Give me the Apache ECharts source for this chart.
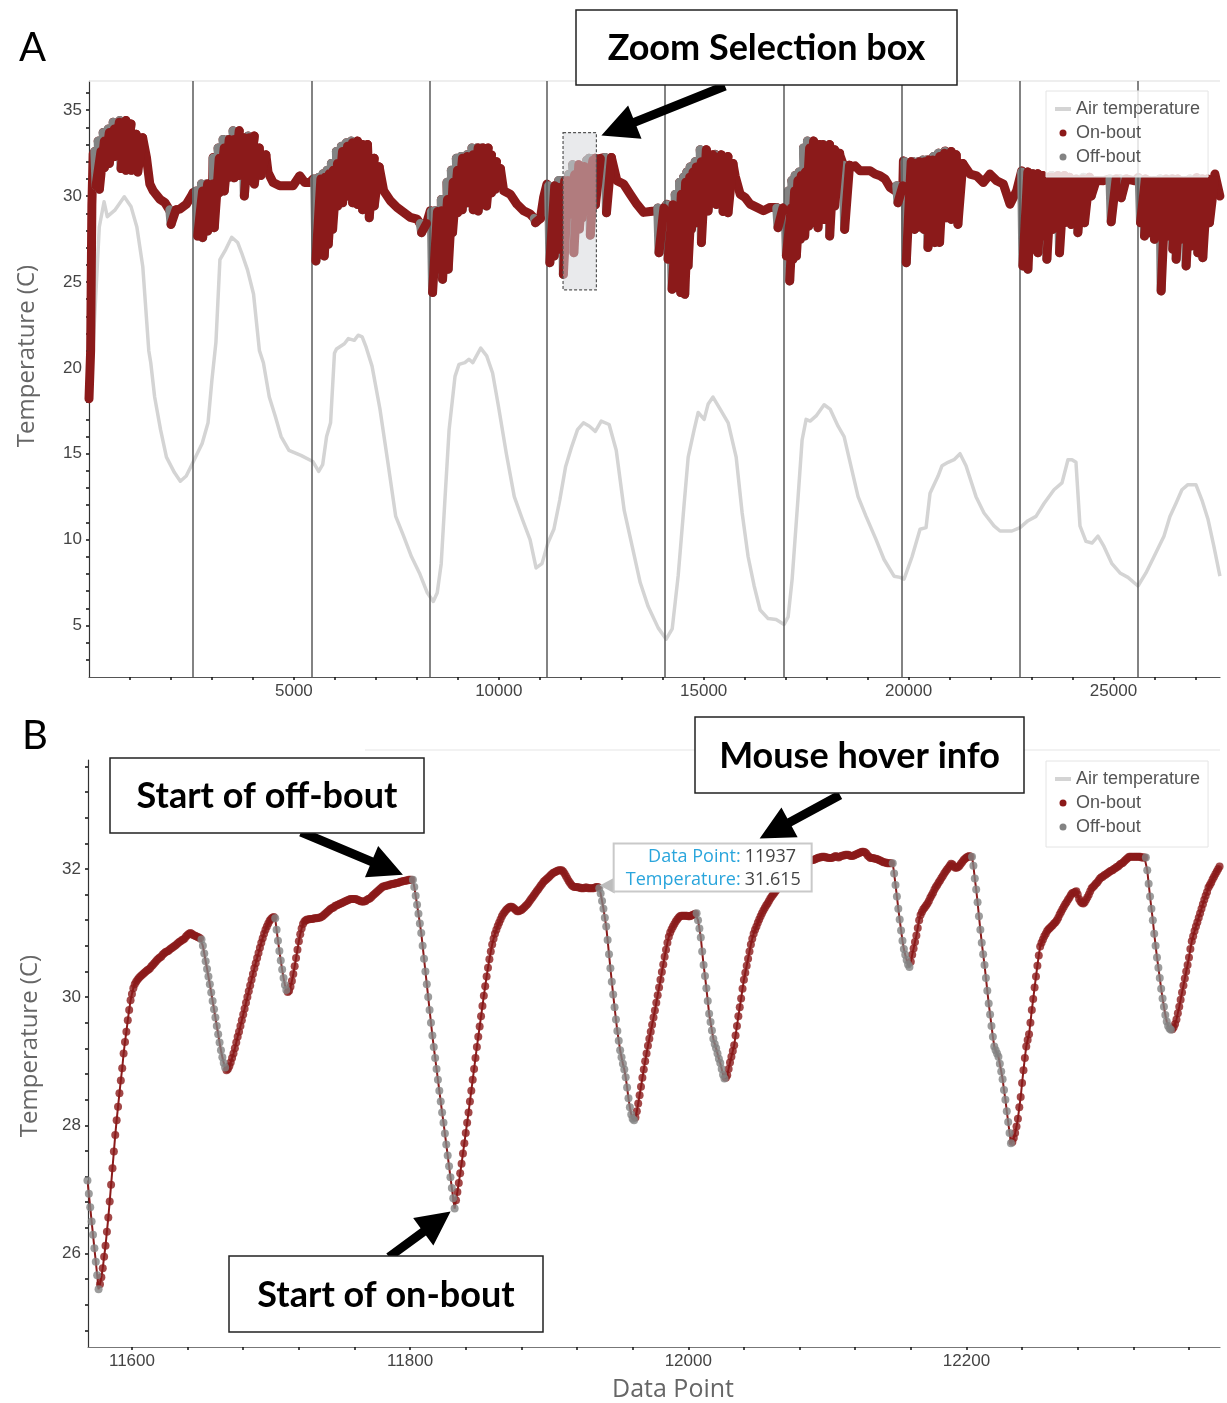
<!DOCTYPE html>
<html><head><meta charset="utf-8">
<script src="https://cdn.jsdelivr.net/npm/echarts@6/dist/echarts.min.js"></script>
<style>html,body{margin:0;padding:0;background:#fff}#c{width:1227px;height:1403px}</style>
</head><body><div id="c"></div>
<script>
// ===================== DATA =====================
// Panel A: day separators (data point index)
const dayBoundaries = [2541, 5430, 8305, 11178, 14061, 16947, 19834, 22703, 25581];

// Panel A: air temperature
const airX = [85,251,368,446,639,861,1024,1168,1312,1459,1507,1602,1746,1890,2085,2229,2373,2568,2761,2905,
3000,3098,3195,3339,3483,3627,3724,3868,4015,4159,4256,4400,4544,4688,4880,5171,5461,5605,5702,5798,
5895,5990,6039,6232,6329,6473,6568,6666,6763,6907,7100,7293,7485,7678,7871,8063,8256,8402,8498,8595,
8690,8788,8932,9029,9173,9271,9366,9559,9705,9849,9993,10185,10378,10573,10763,10910,11054,11198,11344,11488,
11632,11778,11922,12066,12212,12356,12500,12693,12866,13061,13256,13451,13646,13890,14085,14232,14378,14524,14622,14768,
14866,15012,15110,15227,15402,15598,15793,15939,16085,16232,16378,16573,16768,16963,17061,17159,17305,17402,17500,17598,
17744,17939,18085,18280,18427,18573,18768,18963,19207,19402,19646,19793,19890,20085,20280,20427,20524,20720,20817,20963,
21110,21256,21402,21646,21841,22085,22232,22524,22720,22915,23110,23305,23549,23744,23890,23988,24085,24183,24329,24476,
24622,24768,24963,25159,25354,25598,25793,25988,26232,26378,26524,26671,26817,27012,27159,27305,27451,27598];
const airY = [20.5,28.2,29.67,28.8,29.2,29.96,29.4,28.2,25.9,21.0,20.3,18.3,16.4,14.8,13.9,13.4,13.7,14.65,15.6,16.8,
19.3,21.5,26.3,26.9,27.6,27.3,26.7,25.7,24.3,21.0,20.3,18.3,17.2,16.0,15.2,14.9,14.55,13.97,14.36,16.0,
16.8,20.85,21.1,21.4,21.7,21.6,21.9,21.8,21.2,20.1,17.6,14.5,11.35,10.2,9.0,8.06,6.9,6.4,6.9,8.6,
12.5,16.4,19.5,20.2,20.3,20.5,20.3,21.15,20.7,19.7,17.75,15.0,12.5,11.2,10.0,8.35,8.6,9.8,10.6,12.3,
14.26,15.4,16.4,16.8,16.6,16.3,16.9,16.7,15.2,11.7,9.6,7.5,6.1,4.86,4.2,4.8,7.9,12.1,14.8,16.4,
17.4,17.0,17.9,18.3,17.6,16.8,14.8,11.55,9.0,7.3,5.9,5.4,5.35,5.06,5.5,7.7,12.5,15.8,17.0,16.9,
17.2,17.85,17.6,16.6,16.0,14.5,12.5,11.35,10.0,8.84,7.87,7.8,7.7,9.0,10.6,10.7,12.7,13.7,14.3,14.5,
14.65,15.0,14.3,12.5,11.55,10.8,10.5,10.5,10.7,11.1,11.35,12.1,12.9,13.3,14.65,14.65,14.5,10.8,9.9,9.8,
10.2,9.6,8.6,8.06,7.8,7.3,8.06,9.0,10.2,11.35,12.1,12.9,13.2,13.2,12.3,11.2,9.6,7.87];

// Panel A: egg temperature during on-bouts (upper trace)  [data point, temperature]
const eggBase = [[0,18.2],[40,21.0],[70,29.5],[102,32.44],[264,33.51],[386,33.8],[549,34.18],[671,34.57],[793,34.28],[915,34.18],[1037,33.41],[1159,33.41],[1280,32.54],[1402,32.25],[1484,30.7],[1565,30.31],[1728,29.82],[1850,29.63],[1972,29.15],[2093,29.53],[2215,29.24],[2378,29.53],[2500,30.02],
[2541,30.21],[2744,30.7],[2866,30.7],[3028,32.25],[3150,32.83],[3272,33.31],[3394,33.31],[3476,34.09],[3557,33.51],[3679,33.31],[3801,33.51],[3923,33.51],[4004,32.83],[4167,32.44],[4248,31.67],[4370,31.37],[4492,30.79],[4654,30.6],[4817,30.6],[4980,30.6],[5142,31.18],[5264,30.79],[5386,30.79],
[5467,30.99],[5630,31.18],[5793,31.57],[5955,32.15],[6077,32.83],[6199,32.93],[6321,33.22],[6443,33.12],[6565,33.02],[6646,33.02],[6728,32.63],[6850,32.05],[6947,31.57],[7029,30.89],[7191,30.31],[7354,29.73],[7516,29.34],[7679,29.05],[7842,28.76],[8004,28.66],[8086,28.37],[8167,28.18],[8248,28.37],
[8329,29.15],[8451,29.15],[8573,29.73],[8695,30.5],[8817,31.47],[8939,32.15],[9061,32.34],[9183,32.34],[9305,32.73],[9468,32.83],[9590,32.83],[9712,32.25],[9833,31.96],[9955,31.28],[10118,30.31],[10281,30.11],[10443,29.53],[10606,29.15],[10768,28.95],[10931,28.56],[11094,29.92],
[11175,30.7],[11297,30.5],[11419,30.99],[11520,31.0],[11642,31.0],[11800,31.83],[11910,31.98],[11995,31.27],[12126,32.27],[12200,32.19],[12320,32.19],[12476,32.25],[12598,32.25],[12720,31.28],[12883,30.89],[13045,30.7],[13207,30.11],[13370,29.53],[13533,29.05],[13695,29.1],[13858,29.15],[13980,29.34],
[14102,29.53],[14183,28.76],[14305,30.11],[14427,30.89],[14549,31.28],[14671,31.67],[14793,31.96],[14915,32.73],[15036,32.44],[15158,32.44],[15280,32.44],[15402,32.44],[15524,31.96],[15646,31.57],[15768,31.18],[15890,30.11],[16012,29.92],[16134,29.53],[16297,29.34],[16459,29.15],[16622,29.34],[16784,29.34],[16906,29.15],
[16988,29.34],[17110,30.7],[17232,31.18],[17354,31.47],[17475,33.22],[17597,33.22],[17719,32.93],[17841,33.02],[17963,33.02],[18085,32.54],[18207,32.44],[18329,32.34],[18451,31.67],[18573,31.67],[18695,31.76],[18817,31.47],[18939,31.47],[19061,31.47],[19183,31.28],[19305,31.18],[19427,30.99],[19549,30.5],[19671,30.31],[19752,31.86],
[19874,32.05],[20036,31.96],[20199,32.05],[20361,32.15],[20524,32.44],[20687,32.6],[20890,32.63],[21012,32.44],[21174,31.86],[21337,31.86],[21500,31.28],[21662,31.18],[21825,30.79],[21987,31.28],[22150,30.89],[22313,30.7],[22475,29.53],[22638,30.31],
[22760,31.47],[22882,31.28],[23044,31.28],[23207,31.18],[23370,31.08],[23532,31.28],[23776,31.08],[24020,30.89],[24264,31.08],[24508,30.89],[24752,30.89],[25077,31.08],[25321,31.08],[25524,30.89],
[25605,31.08],[25809,30.89],[26052,30.89],[26215,31.08],[26378,31.08],[26540,30.89],[26703,30.89],[26865,31.08],[27028,31.08],[27272,30.89],[27475,31.28],[27597,30.0]];

// Panel A: off-bouts  [start data point, temperature at start, temperature at end]
const offBouts = [[142,32.6,30.6],[224,33.2,30.4],[346,33.7,31.65],[467,33.9,31.9],[590,34.3,32.3],[752,34.4,31.6],[874,34.2,31.5],[1000,33.6,31.5],[1159,33.4,31.4],[1972,29.2,28.35],
[2622,30.3,27.67],[2744,30.7,27.58],[2866,30.7,27.96],[3028,32.2,28.16],[3150,32.8,30.2],[3272,33.3,30.3],[3394,33.3,31.1],[3516,33.8,31.06],[3638,33.4,31.2],[3760,33.4,30.0],[3882,33.5,30.9],[4004,32.8,30.7],[4167,32.4,31.2],
[5508,31.0,26.22],[5614,31.1,26.7],[5711,31.3,26.51],[5809,31.5,27.19],[5915,31.9,28.06],[6037,32.6,29.42],[6159,32.9,29.61],[6280,33.1,30.0],[6402,33.2,29.61],[6524,33.0,29.51],[6646,33.0,29.2],[6809,32.2,28.74],[6931,31.7,29.42],[8086,28.4,27.87],
[8354,29.1,24.38],[8451,29.15,25.74],[8598,29.8,25.15],[8736,30.8,25.74],[8842,31.5,27.87],[8964,32.2,29.03],[9077,32.3,29.2],[9224,32.4,29.61],[9346,32.8,29.2],[9468,32.8,29.13],[9590,32.8,29.61],[9671,32.4,29.42],[9793,32.0,30.19],[9890,31.6,30.4],[10866,28.7,28.45],
[11216,30.6,26.12],[11321,30.5,26.51],[11459,30.9,26.9],[11546,30.9,25.44],[11650,30.9,28.86],[11703,31.25,30.08],[11802,31.83,26.7],[11936,31.72,28.08],[12006,31.31,28.73],[12147,32.09,30.47],[12204,32.2,27.72],[12329,32.19,29.49],[12598,32.25,29.03],[13880,29.3,26.7],
[14102,29.5,26.32],[14199,29.0,24.57],[14305,30.1,24.67],[14410,30.8,24.38],[14508,31.1,24.28],[14589,31.4,25.93],[14671,31.7,28.06],[14793,32.0,28.45],[14915,32.7,27.29],[15077,32.4,29.13],[15280,32.4,29.51],[15443,32.3,29.1],[15565,31.9,29.03],[16784,29.3,28.16],
[16988,29.3,26.51],[17069,30.3,25.06],[17150,30.9,26.32],[17232,31.2,26.5],[17329,31.4,27.48],[17435,32.8,27.67],[17532,33.2,28.25],[17679,33.0,28.45],[17760,33.0,28.16],[17923,33.0,28.64],[18045,32.7,27.67],[18167,32.5,29.42],[18410,31.8,28.06],[19711,30.6,29.61],
[19914,32.0,26.12],[20020,31.9,28.45],[20118,32.0,28.06],[20240,32.0,28.2],[20345,32.1,28.06],[20443,32.1,27.0],[20606,32.3,27.29],[20727,32.5,27.3],[20890,32.6,28.74],[21012,32.4,28.64],[21174,31.9,28.35],
[22760,31.4,25.93],[22882,31.3,25.74],[23004,31.3,26.9],[23126,31.2,26.7],[23248,31.1,27.67],[23345,31.1,26.32],[23491,31.2,28.06],[23654,31.2,26.7],[23776,31.1,28.45],[23939,31.0,28.35],[24101,31.0,27.87],[24264,31.1,28.45],[24427,30.9,30.0],[24915,31.0,28.5],[25160,31.0,29.9],
[25630,31.0,28.45],[25727,30.9,27.67],[25849,30.9,27.87],[25971,30.9,27.48],[26134,31.0,24.48],[26296,31.0,27.67],[26418,31.0,26.9],[26500,30.9,26.32],[26622,30.9,27.48],[26743,30.9,25.93],[26865,31.0,27.09],[27028,31.0,26.7],[27150,31.0,26.41],[27313,30.9,28.45]];
const offDuration = 30, recoveryDuration = 120;   // data points

// Panel B: zoomed egg temperature, one value per data point  [bout, first data point, values]
const bRuns = [
['off',11568,[27.14,26.93,26.72,26.50,26.29,26.08,25.87,25.66,25.44]],
['on',11577,[25.52,25.63,25.77,25.95,26.12,26.34,26.56,26.81,27.07,27.33,27.59,27.85,28.08,28.29,28.50,28.70,28.89,29.12,29.30,29.46,29.64,29.80,29.95,
30.05,30.14,30.20,30.24,30.27,30.30,30.32,30.34,30.36,30.38,30.40,30.42,30.43,30.45,30.48,30.50,30.53,30.55,30.58,30.60,30.62,30.63,30.66,30.68,30.70,30.71,30.72,30.74,30.76,30.77,30.79,30.80,30.82,30.84,30.86,30.87,30.89,30.90,30.92,30.95,30.97,30.99,31.00,30.99,30.97,30.96,30.95,30.94,30.93,30.92]],
['off',11650,[30.90,30.80,30.68,30.56,30.44,30.32,30.20,30.07,29.94,29.81,29.68,29.55,29.42,29.29,29.17,29.06,28.97,28.90]],
['on',11668,[28.86,28.88,28.92,28.98,29.05,29.12,29.20,29.29,29.38,29.46,29.55,29.64,29.73,29.82,29.91,30.00,30.09,30.18,30.27,30.36,30.45,30.53,30.61,30.69,30.77,30.85,30.92,30.99,31.05,31.10,31.15,31.19,31.22,31.24,31.25]],
['off',11703,[31.23,31.05,30.88,30.72,30.57,30.43,30.30,30.19,30.11]],
['on',11712,[30.08,30.10,30.16,30.25,30.36,30.48,30.61,30.74,30.87,30.98,31.07,31.14,31.18,
31.20,31.21,31.21,31.22,31.22,31.22,31.23,31.23,31.23,31.24,31.24,31.25,31.26,31.28,31.30,31.32,31.34,31.36,31.38,31.39,
31.40,31.42,31.43,31.44,31.45,31.46,31.47,31.48,31.49,31.50,31.51,31.52,31.53,31.53,31.53,31.53,31.53,31.52,31.51,31.50,
31.49,31.49,31.49,31.50,31.52,31.53,31.54,31.56,31.58,31.60,31.62,31.64,31.66,31.68,31.70,31.72,31.73,31.73,31.74,31.74,
31.75,31.76,31.76,31.77,31.77,31.78,31.78,31.79,31.80,31.80,31.81,31.81,31.82,31.82,31.83,31.83,31.83]],
['off',11802,[31.83,31.72,31.58,31.44,31.30,31.15,31.00,30.80,30.60,30.40,30.20,30.00,29.80,29.60,29.40,29.22,29.05,28.88,28.71,28.54,28.37,28.20,28.04,27.87,27.70,27.53,27.36,27.19,27.02,26.86,26.70]],
['on',11833,[26.83,26.96,27.10,27.25,27.40,27.56,27.72,27.88,28.04,28.20,28.37,28.54,28.71,28.88,29.05,29.22,29.38,29.54,29.70,29.86,
30.02,30.17,30.32,30.46,30.59,30.71,30.82,30.91,30.99,31.05,31.11,31.16,31.21,31.26,31.30,31.33,31.36,31.38,31.40,31.41,
31.41,31.40,31.38,31.36,31.34,31.34,31.35,31.36,31.38,31.40,31.42,31.44,31.47,31.50,31.53,31.56,31.59,31.62,31.65,31.68,
31.71,31.74,31.77,31.80,31.82,31.84,31.86,31.88,31.90,31.92,31.94,31.95,31.96,31.97,31.98,31.98,31.98,31.96,31.93,31.89,
31.85,31.81,31.78,31.75,31.73,31.72,31.72,31.72,31.71,31.71,31.70,31.70,31.70,31.71,31.71,31.70,31.70,31.70,31.70,31.70,31.71,31.72,31.72]],
['off',11936,[31.70,31.615,31.50,31.38,31.24,31.10,30.89,30.67,30.45,30.24,30.04,29.84,29.65,29.47,29.32,29.17,29.06,28.96,28.87,28.75,28.59,28.42,28.28,28.17,28.10,28.08]],
['on',11962,[28.12,28.22,28.34,28.47,28.60,28.74,28.87,29.00,29.12,29.24,29.35,29.46,29.57,29.68,29.79,29.91,30.03,30.15,30.27,30.39,
30.51,30.63,30.74,30.85,30.94,31.01,31.06,31.10,31.14,31.18,31.21,31.24,31.26,31.27,31.27,31.27,31.27,31.27,31.26,31.26,31.27,31.28,31.29,31.30]],
['off',12006,[31.31,31.20,31.07,30.93,30.71,30.50,30.33,30.14,29.94,29.74,29.61,29.48,29.35,29.27,29.20,29.12,29.04,28.97,28.88,28.79,28.73]],
['on',12027,[28.74,28.78,28.88,28.98,29.07,29.16,29.25,29.40,29.55,29.70,29.84,29.98,30.13,30.27,30.38,30.49,30.60,30.71,30.82,30.91,
30.99,31.05,31.10,31.16,31.21,31.26,31.31,31.35,31.39,31.43,31.46,31.50,31.54,31.57,31.60,31.63,31.66,31.69,31.72,31.75,
31.78,31.80,31.83,31.85,31.88,31.90,31.93,31.96,31.99,32.02,32.05,32.06,32.07,32.08,32.08,32.09,32.10,32.10,32.11,32.11,
32.12,32.13,32.14,32.14,32.15,32.16,32.17,32.18,32.18,32.19,32.19,32.19,32.18,32.18,32.17,32.17,32.17,32.18,32.19,32.20,
32.19,32.18,32.19,32.20,32.21,32.21,32.22,32.22,32.22,32.21,32.20,32.20,32.21,32.22,32.23,32.24,32.25,32.26,32.27,32.27,
32.26,32.24,32.21,32.19,32.17,32.17,32.17,32.16,32.16,32.15,32.14,32.13,32.12,32.11,32.10,32.10,32.09,32.09,32.09,32.09]],
['off',12147,[32.09,31.93,31.75,31.57,31.38,31.21,31.04,30.88,30.75,30.66,30.58,30.51,30.47]],
['on',12160,[30.55,30.66,30.76,30.86,30.96,31.08,31.20,31.28,31.33,31.37,31.40,31.43,31.46,31.50,31.55,31.59,31.63,31.68,31.72,31.75,
31.79,31.82,31.86,31.89,31.93,31.96,31.99,32.02,32.05,32.08,32.07,32.04,32.02,32.02,32.03,32.05,32.08,32.11,32.14,32.16,32.18,32.19,32.20,32.19]],
['off',12204,[32.19,32.05,31.85,31.68,31.48,31.26,31.05,30.85,30.67,30.50,30.30,30.10,29.90,29.73,29.55,29.38,29.23,29.17,29.12,29.07,28.96,28.84,28.72,28.55,28.40,28.22,28.05,27.88,27.72]],
['on',12233,[27.74,27.80,27.88,27.98,28.10,28.28,28.44,28.66,28.86,29.05,29.23,29.33,29.42,29.60,29.80,29.97,30.15,30.32,30.49,30.65,
30.79,30.85,30.90,30.95,30.99,31.03,31.06,31.08,31.10,31.12,31.15,31.17,31.20,31.24,31.29,31.33,31.37,31.41,31.45,31.48,
31.52,31.55,31.59,31.62,31.63,31.64,31.65,31.60,31.53,31.49,31.47,31.46,31.48,31.52,31.56,31.60,31.65,31.70,31.72,31.74,
31.77,31.79,31.82,31.85,31.87,31.88,31.90,31.91,31.93,31.94,31.96,31.97,31.98,32.00,32.01,32.03,32.04,32.06,32.08,32.09,
32.11,32.13,32.15,32.17,32.19,32.19,32.19,32.19,32.19,32.19,32.19,32.19,32.19,32.18,32.18,32.18]],
['off',12329,[32.18,31.98,31.77,31.57,31.38,31.20,30.99,30.80,30.62,30.46,30.30,30.13,29.98,29.85,29.72,29.62,29.55,29.51,29.49]],
['on',12348,[29.50,29.53,29.58,29.65,29.75,29.85,29.96,30.07,30.18,30.29,30.40,30.50,30.62,30.75,30.87,30.95,31.03,31.10,31.17,31.24,
31.31,31.38,31.45,31.52,31.58,31.64,31.71,31.75,31.79,31.84,31.88,31.92,31.96,32.00,32.04]]
];

// zoom selection (panel B extent) and hovered point
const zoomX = [11568.4, 12382.3];
const zoomY = [24.54, 33.70];
const hoverPoint = [11937, 31.615];

// axis extents / tick labels
const aXRange = [0, 27600], aYRange = [2, 36.7];
const aXLabels = [5000, 10000, 15000, 20000, 25000];
const aYLabels = [5, 10, 15, 20, 25, 30, 35];
const bXLabels = [11600, 11800, 12000, 12200];
const bYLabels = [26, 28, 30, 32];

// ===================== BUILD =====================
const RED = '#8b1a1a', GREY = '#838383', AIR = '#d4d4d4';
const aXTicks = []; for (let v = 1000; v <= 27000; v += 1000) aXTicks.push(v);
const aYTicks = []; for (let v = 3; v <= 36; v++) aYTicks.push(v);
const bXTicks = []; for (let v = 11600; v <= 12380; v += 40) bXTicks.push(v);
const bYTicks = []; for (let k = 0; k <= 22; k++) bYTicks.push(Math.round((24.8 + 0.4 * k) * 10) / 10);

const airData = airX.map((x, i) => [x, airY[i]]);

const ev = eggBase.map(p => ({x: p[0], base: p[1]}))
  .concat(offBouts.map(d => ({x: d[0], top: d[1], bot: d[2]})));
ev.sort((a, b) => a.x - b.x);
const aOn = [], aOff = [], aRec = [];
let skipTo = -Infinity;
for (const e of ev) {
  if (e.base !== undefined) { if (e.x > skipTo) aOn.push([e.x, e.base]); continue; }
  const xEnd = e.x + offDuration, xRec = xEnd + recoveryDuration;
  aOn.push([e.x, e.top]); aOn.push([e.x, null]); aOn.push([xRec, e.top]);
  aOff.push([e.x, e.top]); aOff.push([xEnd, e.bot]); aOff.push([xEnd, null]);
  aRec.push([xEnd, e.bot]); aRec.push([xRec, e.top]); aRec.push([xRec, null]);
  skipTo = xRec;
}

const bAll = [], bOn = [], bOff = [];
bRuns.forEach(([bout, start, vals]) => vals.forEach((v, i) => {
  const p = [start + i, v]; bAll.push(p); (bout === 'off' ? bOff : bOn).push(p);
}));

const FONT = "'Liberation Sans', Arial, sans-serif";
function xAxisCfg(grid, range, ticks, labels, lineColor) {
  return {gridIndex: grid, type: 'value', min: range[0], max: range[1],
    axisLine: {show: true, onZero: false, lineStyle: {color: lineColor, width: 1.2}},
    axisTick: {show: true, customValues: ticks, length: 3, lineStyle: {color: '#111', width: 1.5}},
    axisLabel: {customValues: labels, formatter: v => String(v), color: '#444', fontSize: 17, margin: 6, fontFamily: FONT},
    splitLine: {show: false}};
}
function yAxisCfg(grid, range, ticks, labels) {
  return {gridIndex: grid, type: 'value', min: range[0], max: range[1],
    axisLine: {show: true, onZero: false, lineStyle: {color: '#333', width: 1.2}},
    axisTick: {show: true, customValues: ticks, length: 3, lineStyle: {color: '#111', width: 1.5}},
    axisLabel: {customValues: labels, formatter: v => String(v), color: '#444', fontSize: 17, margin: 7, fontFamily: FONT},
    splitLine: {show: false}};
}
function legendCfg(top) {
  return {left: 1046, top: top, orient: 'vertical', padding: [8, 8, 10, 9], itemGap: 4, itemWidth: 16, itemHeight: 7,
    backgroundColor: 'rgba(255,255,255,0.82)', borderColor: '#e4e4e4', borderWidth: 1, z: 30, selectedMode: false,
    textStyle: {fontFamily: FONT, fontSize: 18, color: '#555', lineHeight: 20},
    data: [{name: 'Air temperature', icon: 'path://M0,0H20V5H0Z'}, {name: 'On-bout', icon: 'circle'}, {name: 'Off-bout', icon: 'circle'}]};
}
const thick = c => ({color: c, width: 9, cap: 'round', join: 'round'});

const chart = echarts.init(document.getElementById('c'), null, {renderer: 'canvas'});
chart.setOption({
  animation: false,
  textStyle: {fontFamily: FONT},
  grid: [{left: 89, top: 81, width: 1131, height: 596}, {left: 88, top: 760, width: 1132, height: 587}],
  xAxis: [xAxisCfg(0, aXRange, aXTicks, aXLabels, '#555'), xAxisCfg(1, zoomX, bXTicks, bXLabels, '#777')],
  yAxis: [yAxisCfg(0, aYRange, aYTicks, aYLabels), yAxisCfg(1, zoomY, bYTicks, bYLabels)],
  legend: [legendCfg(91), legendCfg(761)],
  series: [
    {name: 'Air temperature', type: 'line', xAxisIndex: 0, yAxisIndex: 0, data: airData, symbol: 'none', z: 2,
      itemStyle: {color: AIR}, lineStyle: {color: AIR, width: 3.5, join: 'round'}},
    {name: 'On-bout', type: 'line', xAxisIndex: 0, yAxisIndex: 0, data: aOn, symbol: 'none', z: 3, connectNulls: false,
      itemStyle: {color: RED}, lineStyle: thick(RED)},
    {name: 'Off-bout', type: 'line', xAxisIndex: 0, yAxisIndex: 0, data: aOff, symbol: 'none', z: 4, connectNulls: false,
      itemStyle: {color: GREY}, lineStyle: thick(GREY)},
    {name: 'On-bout', type: 'line', xAxisIndex: 0, yAxisIndex: 0, data: aRec, symbol: 'none', z: 5, connectNulls: false,
      itemStyle: {color: RED}, lineStyle: thick(RED)},
    {name: 'days', type: 'line', xAxisIndex: 0, yAxisIndex: 0, data: [], z: 6, silent: true,
      markLine: {silent: true, symbol: ['none', 'none'], label: {show: false},
        lineStyle: {color: '#5a5a5a', width: 1.5, type: 'solid'},
        data: dayBoundaries.map(v => ({xAxis: v}))}},
    {name: 'zoomBox', type: 'custom', xAxisIndex: 0, yAxisIndex: 0, z: 20, silent: true,
      data: [[zoomX[0], zoomY[0], zoomX[1], zoomY[1]]],
      renderItem: (params, api) => {
        const p0 = api.coord([api.value(0), api.value(3)]);
        const p1 = api.coord([api.value(2), api.value(1)]);
        return {type: 'rect', shape: {x: p0[0], y: p0[1], width: p1[0] - p0[0], height: p1[1] - p0[1]},
          style: {fill: 'rgba(212,215,219,0.52)', stroke: '#555', lineWidth: 1.2, lineDash: [3, 2]}};
      }},
    {name: 'Air temperature', type: 'line', xAxisIndex: 1, yAxisIndex: 1, data: airData, symbol: 'none', z: 2,
      itemStyle: {color: AIR}, lineStyle: {color: AIR, width: 3.5}},
    {name: 'bTrace', type: 'line', xAxisIndex: 1, yAxisIndex: 1, data: bAll, symbol: 'none', z: 2,
      lineStyle: {color: RED, width: 2}},
    {name: 'On-bout', type: 'scatter', xAxisIndex: 1, yAxisIndex: 1, data: bOn, symbolSize: 8, z: 3, clip: false,
      itemStyle: {color: RED}},
    {name: 'Off-bout', type: 'scatter', xAxisIndex: 1, yAxisIndex: 1, data: bOff, symbolSize: 8, z: 4, clip: false,
      itemStyle: {color: GREY}}
  ]
});

// ===================== ANNOTATIONS =====================
const P = (g, pt) => chart.convertToPixel({gridIndex: g}, pt);
function arrow(x1, y1, x2, y2, shaft, headL, headW) {
  const dx = x2 - x1, dy = y2 - y1, L = Math.hypot(dx, dy), ux = dx / L, uy = dy / L, nx = -uy, ny = ux;
  const bx = x2 - ux * headL, by = y2 - uy * headL;
  return {type: 'polygon', z: 110, shape: {points: [
    [x1 + nx * shaft / 2, y1 + ny * shaft / 2], [bx + nx * shaft / 2, by + ny * shaft / 2], [bx + nx * headW / 2, by + ny * headW / 2],
    [x2, y2], [bx - nx * headW / 2, by - ny * headW / 2], [bx - nx * shaft / 2, by - ny * shaft / 2], [x1 - nx * shaft / 2, y1 - ny * shaft / 2]]},
    style: {fill: '#000'}};
}
function callout(x, y, w, h, text) {
  return [{type: 'rect', z: 120, shape: {x, y, width: w, height: h}, style: {fill: '#fff', stroke: '#222', lineWidth: 1.5}},
    {type: 'text', z: 121, x: x + w / 2, y: y + h / 2 + 1,
      style: {text, font: "bold 36px Lato, 'Open Sans', sans-serif", fill: '#000', align: 'center', verticalAlign: 'middle', textAlign: 'center', textVerticalAlign: 'middle'}}];
}
function txt(x, y, text, font, fill, align, rot) {
  return {type: 'text', z: 125, x, y, rotation: rot || 0,
    style: {text, font, fill, align: align || 'left', verticalAlign: 'middle', textAlign: align || 'left', textVerticalAlign: 'middle'}};
}

const aTL = P(0, [aXRange[0], aYRange[1]]), aTR = P(0, [aXRange[1], aYRange[1]]);
const boxCorner = P(0, [zoomX[1], zoomY[1]]);
const hp = P(1, hoverPoint);
const offStart = P(1, [11802, 31.83]);
const onStart = P(1, [11832, 26.70]);
const tipX = hp[0] - 1, tipY = hp[1] - 8;
const tb = {x: tipX + 14, y: tipY - 42, w: 198, h: 48};

const g = [];
g.push({type: 'line', z: 1, shape: {x1: aTL[0], y1: aTL[1], x2: aTR[0], y2: aTR[1]}, style: {stroke: '#e8e8e8', lineWidth: 1.5}});
g.push({type: 'line', z: 1, shape: {x1: 365, y1: 750, x2: 1220, y2: 750}, style: {stroke: '#eeeeee', lineWidth: 1.5}});
// panel letters
g.push(txt(19, 48, 'A', "40px Lato, 'Open Sans', sans-serif", '#000'));
g.push(txt(22, 736, 'B', "40px Lato, 'Open Sans', sans-serif", '#000'));
// axis names
g.push(txt(27, 356, 'Temperature (C)', "24px 'Open Sans', sans-serif", '#666', 'center', Math.PI / 2));
g.push(txt(30, 1046, 'Temperature (C)', "24px 'Open Sans', sans-serif", '#666', 'center', Math.PI / 2));
g.push(txt(673, 1390, 'Data Point', "25px 'Open Sans', sans-serif", '#666', 'center'));
// tooltip
g.push({type: 'polygon', z: 115, shape: {points: [[tipX, tipY], [tipX + 15, tipY - 8], [tipX + 15, tipY + 8]]}, style: {fill: '#bdbdbd'}});
g.push({type: 'rect', z: 116, shape: {x: tb.x, y: tb.y, width: tb.w, height: tb.h}, style: {fill: '#fff', stroke: '#c9c9c9', lineWidth: 2}});
g.push(txt(tb.x + 127, tb.y + 13, 'Data Point:', "18px 'Open Sans', sans-serif", '#2aa5dc', 'right'));
g.push(txt(tb.x + 131, tb.y + 13, String(hoverPoint[0]), "18px 'Open Sans', sans-serif", '#444', 'left'));
g.push(txt(tb.x + 127, tb.y + 36, 'Temperature:', "18px 'Open Sans', sans-serif", '#2aa5dc', 'right'));
g.push(txt(tb.x + 131, tb.y + 36, hoverPoint[1].toFixed(3), "18px 'Open Sans', sans-serif", '#444', 'left'));
// arrows
g.push(arrow(725, 86, boxCorner[0] + 5, boxCorner[1] + 3, 9, 36, 36));
g.push(arrow(301, 832, offStart[0] - 10, offStart[1] - 5, 9, 34, 34));
g.push(arrow(840, 795, tb.x + 146, tb.y - 5, 9, 34, 34));
g.push(arrow(389, 1257, onStart[0] - 4, onStart[1] + 3, 9, 34, 34));
// callout boxes
g.push(...callout(576, 10, 381, 75, 'Zoom Selection box'));
g.push(...callout(110, 758, 314, 75, 'Start of off-bout'));
g.push(...callout(695, 717, 329, 76, 'Mouse hover info'));
g.push(...callout(229, 1256, 314, 76, 'Start of on-bout'));

chart.setOption({graphic: {elements: g}});
</script>
</body></html>
